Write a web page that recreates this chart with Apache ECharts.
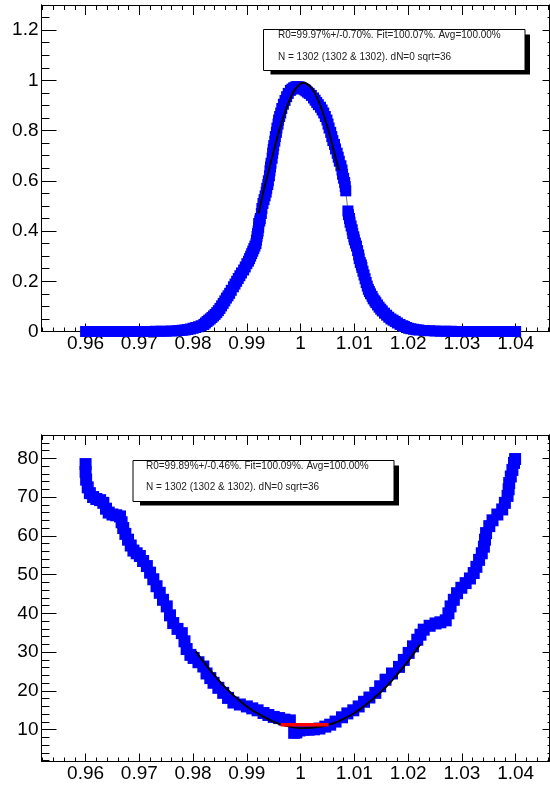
<!DOCTYPE html>
<html>
<head>
<meta charset="utf-8">
<script src="https://cdn.jsdelivr.net/npm/echarts@6/dist/echarts.min.js"></script>
<style>
  html, body { margin: 0; padding: 0; background: #fff; }
  #main { width: 550px; height: 785px; }
</style>
</head>
<body>
<div id="main"></div>
<script>
// tick labels
const xMajorTicks = [0.96, 0.97, 0.98, 0.99, 1.00, 1.01, 1.02, 1.03, 1.04];
const yTopTicks = [0, 0.2, 0.4, 0.6, 0.8, 1, 1.2];
const yBotTicks = [10, 20, 30, 40, 50, 60, 70, 80];

// top panel: points [x, y]
const topPoints = [
  [0.960, 0], [0.961, 0], [0.962, 0], [0.963, 0], [0.964, 0], [0.965, 0], [0.966, 0], [0.967, 0],
  [0.968, 0], [0.969, 0], [0.970, 0], [0.971, 0], [0.972, 0], [0.973, 0.001], [0.974, 0.001],
  [0.975, 0.001], [0.976, 0.002], [0.977, 0.003], [0.9775, 0.004], [0.978, 0.005], [0.9785, 0.006],
  [0.979, 0.008], [0.9795, 0.010], [0.980, 0.013], [0.9805, 0.016], [0.981, 0.019], [0.9815, 0.023],
  [0.982, 0.028], [0.9823, 0.034], [0.9826, 0.04], [0.9829, 0.045], [0.9832, 0.05], [0.9835, 0.056],
  [0.9838, 0.062], [0.9841, 0.068], [0.9844, 0.075], [0.9847, 0.083], [0.985, 0.092], [0.9853, 0.102],
  [0.9856, 0.112], [0.9859, 0.122], [0.9862, 0.133], [0.9865, 0.142], [0.9868, 0.152], [0.9871, 0.164],
  [0.9875, 0.178], [0.9878, 0.189], [0.9881, 0.2], [0.9884, 0.211], [0.9887, 0.222], [0.989, 0.233],
  [0.9894, 0.245], [0.9897, 0.257], [0.990, 0.27], [0.9903, 0.28], [0.9905, 0.29], [0.9907, 0.30],
  [0.9909, 0.31], [0.9911, 0.32], [0.9913, 0.33], [0.9915, 0.34], [0.9917, 0.35], [0.9918, 0.364],
  [0.9919, 0.378], [0.992, 0.39], [0.9921, 0.40], [0.9922, 0.415], [0.9922, 0.43], [0.9924, 0.44],
  [0.9925, 0.45], [0.9927, 0.47], [0.9928, 0.49], [0.993, 0.51], [0.9932, 0.525], [0.9934, 0.54],
  [0.9936, 0.555], [0.9937, 0.57], [0.9939, 0.585], [0.994, 0.60], [0.9942, 0.62], [0.9943, 0.64],
  [0.9944, 0.655], [0.9945, 0.67], [0.9947, 0.69], [0.9948, 0.71], [0.9949, 0.725], [0.995, 0.74],
  [0.9952, 0.758], [0.9953, 0.776], [0.9955, 0.793], [0.9956, 0.81], [0.9958, 0.826], [0.9959, 0.842],
  [0.9961, 0.856], [0.9963, 0.87], [0.9965, 0.888], [0.9968, 0.905], [0.9971, 0.92], [0.9974, 0.935],
  [0.9977, 0.948], [0.9981, 0.96], [0.9984, 0.965], [0.9987, 0.97], [0.999, 0.973], [0.9993, 0.975],
  [0.9997, 0.974], [1.0, 0.972], [1.0003, 0.968], [1.0005, 0.965], [1.0008, 0.962], [1.001, 0.958],
  [1.0013, 0.953], [1.0016, 0.948], [1.002, 0.94], [1.0024, 0.93], [1.0027, 0.921], [1.003, 0.912],
  [1.0033, 0.903], [1.0037, 0.893], [1.004, 0.882], [1.0043, 0.87], [1.0046, 0.856], [1.0049, 0.842],
  [1.0051, 0.826], [1.0053, 0.81], [1.0056, 0.793], [1.0058, 0.776], [1.006, 0.76], [1.0063, 0.745],
  [1.0065, 0.727], [1.0068, 0.71], [1.007, 0.694], [1.0072, 0.678], [1.0075, 0.66], [1.0077, 0.643],
  [1.0078, 0.626], [1.008, 0.61], [1.0082, 0.593], [1.0083, 0.577], [1.0084, 0.56], [1.0088, 0.48],
  [1.0089, 0.465], [1.0091, 0.45], [1.0092, 0.435], [1.0094, 0.42], [1.0096, 0.405], [1.0097, 0.39],
  [1.0099, 0.377], [1.01, 0.365], [1.0102, 0.352], [1.0104, 0.34], [1.0106, 0.322], [1.0108, 0.305],
  [1.0109, 0.29], [1.0111, 0.275], [1.0113, 0.265], [1.0114, 0.255], [1.0116, 0.24], [1.0118, 0.225],
  [1.012, 0.21], [1.0122, 0.195], [1.0124, 0.181], [1.0126, 0.168], [1.0128, 0.159], [1.013, 0.15],
  [1.0133, 0.14], [1.0135, 0.13], [1.0138, 0.122], [1.014, 0.115], [1.0143, 0.106], [1.0146, 0.097],
  [1.0149, 0.089], [1.0152, 0.082], [1.0156, 0.073], [1.016, 0.065], [1.0164, 0.057], [1.0168, 0.05],
  [1.0172, 0.045], [1.0176, 0.04], [1.018, 0.034], [1.0185, 0.028], [1.019, 0.023], [1.0193, 0.02],
  [1.0197, 0.016], [1.0201, 0.013], [1.0205, 0.011], [1.021, 0.009], [1.0215, 0.007], [1.022, 0.006],
  [1.023, 0.004], [1.024, 0.003], [1.025, 0.002], [1.026, 0.001], [1.027, 0.001], [1.028, 0.001],
  [1.029, 0], [1.030, 0], [1.031, 0], [1.032, 0], [1.033, 0], [1.034, 0], [1.035, 0], [1.036, 0],
  [1.037, 0], [1.038, 0], [1.039, 0], [1.040, 0]
];
// top panel fit curve
const topFit = [
  [0.9922, 0.47], [0.993, 0.549], [0.994, 0.635], [0.995, 0.719], [0.996, 0.798], [0.997, 0.867],
  [0.998, 0.924], [0.999, 0.965], [1.000, 0.986], [1.0006, 0.99], [1.001, 0.988], [1.002, 0.970],
  [1.003, 0.933], [1.004, 0.880], [1.005, 0.813], [1.006, 0.735], [1.007, 0.652], [1.0072, 0.643]
];

// bottom panel: points [x, y]
const botPoints = [
  [0.9600, 78.5], [0.9600, 76.5], [0.9601, 74.5], [0.9604, 72.5], [0.9608, 71], [0.9614, 70],
  [0.962, 69.5], [0.9627, 69.2], [0.9633, 68.5], [0.9638, 67], [0.9643, 66], [0.965, 65.5],
  [0.9657, 65.3], [0.9664, 65], [0.9667, 63.5], [0.967, 62], [0.9674, 60.5], [0.9679, 59],
  [0.9684, 57.5], [0.9689, 56.2], [0.9695, 55.5], [0.9701, 54.8], [0.9707, 53.5], [0.9714, 52.2],
  [0.972, 50.5], [0.9726, 48.8], [0.9732, 47], [0.9738, 45.3], [0.9744, 43.5], [0.9751, 41.8],
  [0.9757, 39.5], [0.9763, 37.5], [0.9771, 36], [0.9779, 34.9], [0.9784, 32.8], [0.9788, 30.8],
  [0.9795, 29.3], [0.9801, 28.5], [0.981, 27.4], [0.9819, 26.3], [0.9825, 24.5], [0.9832, 23.3],
  [0.9838, 22.1], [0.9847, 20.8], [0.9856, 19.5], [0.9865, 18.2], [0.9875, 17], [0.9887, 16.5],
  [0.99, 16], [0.991, 15.5], [0.992, 15], [0.9931, 14.3], [0.994, 13.8], [0.995, 13.3],
  [0.996, 13], [0.997, 12.6], [0.998, 12.4], [0.9988, 9.2], [0.9992, 9.3], [0.9998, 9.8],
  [1.0005, 10], [1.0015, 10], [1.0025, 10.1], [1.0035, 10.3], [1.0046, 10.8], [1.0055, 11.3],
  [1.0065, 12.1], [1.0077, 13.2], [1.0087, 14.2], [1.0098, 15], [1.0108, 16], [1.0118, 17.2],
  [1.0128, 18.3], [1.0139, 19.5], [1.0148, 21.2], [1.0158, 22.9], [1.017, 24.5], [1.0183, 26.2],
  [1.0192, 28], [1.0201, 29.8], [1.0209, 31.5], [1.0217, 33.2], [1.0223, 34.5], [1.0229, 35.8],
  [1.024, 36.8], [1.0251, 37.4], [1.026, 37.7], [1.027, 38.2], [1.0275, 40], [1.0279, 41.8],
  [1.0285, 43.5], [1.0291, 45.2], [1.0299, 46.6], [1.0307, 47.8], [1.0315, 49], [1.0322, 50.4],
  [1.0327, 52], [1.0332, 53.8], [1.0337, 55.5], [1.0341, 57.2], [1.0343, 59], [1.0345, 60.7],
  [1.0351, 62.5], [1.0357, 64], [1.0366, 65.5], [1.0375, 66.8], [1.038, 68.5], [1.0385, 70.3],
  [1.0387, 72], [1.0388, 73.6], [1.0391, 75.3], [1.0394, 77], [1.0397, 78.8], [1.0399, 79.8]
];
// bottom panel fit curve
const botFit = [
  [0.9805, 30.2], [0.982, 27.4], [0.984, 24.0], [0.986, 20.9], [0.988, 18.3], [0.990, 16.0],
  [0.992, 14.2], [0.994, 12.7], [0.996, 11.5], [0.998, 10.8], [1.000, 10.4], [1.002, 10.5],
  [1.004, 10.9], [1.006, 11.6], [1.008, 12.8], [1.010, 14.3], [1.012, 16.3], [1.014, 18.6],
  [1.016, 21.2], [1.018, 24.3], [1.020, 27.7], [1.022, 31.5], [1.0223, 32.1]
];
// red segment at the minimum
const botRed = [[0.9963, 11.3], [1.0052, 11.3]];

const topText = ['R0=99.97%+/-0.70%. Fit=100.07%. Avg=100.00%', 'N = 1302 (1302 & 1302). dN=0 sqrt=36'];
const botText = ['R0=99.89%+/-0.46%. Fit=100.09%. Avg=100.00%', 'N = 1302 (1302 & 1302). dN=0 sqrt=36'];

const X_MIN = 0.9518, X_MAX = 1.0463;
const FONT = 'Liberation Sans, Arial, Helvetica, sans-serif';

let xMinor = [];
for (let i = 476; i <= 523; i++) xMinor.push(i * 2 / 1000);
let yTopMinor = [];
for (let i = 0; i <= 26; i++) yTopMinor.push(i * 5 / 100);
let yBotMinor = [];
for (let i = 1; i <= 43; i++) yBotMinor.push(i * 2);

let dom = document.getElementById('main');
let chart = echarts.init(dom, null, { renderer: 'canvas' });

function fmt(v) {
  return String(Math.round(v * 1000) / 1000);
}

function axisDef(grid, pos, min, max, ticks, len, labels, labelMargin) {
  let a = {
    type: 'value',
    gridIndex: grid,
    position: pos,
    min: min,
    max: max,
    axisLine: { show: true, onZero: false, lineStyle: { color: '#000', width: 1 } },
    axisTick: { show: true, inside: true, length: len, customValues: ticks, lineStyle: { color: '#000', width: 1 } },
    axisLabel: { show: false },
    splitLine: { show: false },
  };
  if (labels) {
    a.axisLabel = {
      show: true,
      customValues: labels,
      formatter: fmt,
      fontSize: 19,
      fontFamily: FONT,
      color: '#000',
      margin: labelMargin,
    };
  }
  return a;
}

let xAxes = [];
let yAxes = [];
[0, 1].forEach(function (g) {
  xAxes.push(axisDef(g, 'bottom', X_MIN, X_MAX, xMajorTicks, 8, xMajorTicks, 3));
  xAxes.push(axisDef(g, 'bottom', X_MIN, X_MAX, xMinor, 4, null));
  xAxes.push(axisDef(g, 'top', X_MIN, X_MAX, xMajorTicks, 10, null));
  xAxes.push(axisDef(g, 'top', X_MIN, X_MAX, xMinor, 5, null));
});
// top grid y
yAxes.push(axisDef(0, 'left', 0, 1.3, yTopTicks, 15, yTopTicks, 3));
yAxes.push(axisDef(0, 'left', 0, 1.3, yTopMinor, 8, null));
yAxes.push(axisDef(0, 'right', 0, 1.3, yTopTicks, 7, null));
yAxes.push(axisDef(0, 'right', 0, 1.3, yTopMinor, 2, null));
// bottom grid y
yAxes.push(axisDef(1, 'left', 1.8, 86, yBotTicks, 15, yBotTicks, 3));
yAxes.push(axisDef(1, 'left', 1.8, 86, yBotMinor, 8, null));
yAxes.push(axisDef(1, 'right', 1.8, 86, yBotTicks, 7, null));
yAxes.push(axisDef(1, 'right', 1.8, 86, yBotMinor, 2, null));

function boxGraphics(x, y, w, h, lines, tx, ty1, ty2) {
  return [
    { type: 'rect', shape: { x: x + 7, y: y + 5, width: w - 2, height: h - 1 }, style: { fill: '#000' }, z: 10 },
    { type: 'rect', shape: { x: x, y: y, width: w, height: h }, style: { fill: '#fff', stroke: '#000', lineWidth: 1 }, z: 11 },
    { type: 'text', x: tx, y: ty1, style: { text: lines[0], font: '10px ' + FONT, fill: '#222', verticalAlign: 'middle' }, z: 12 },
    { type: 'text', x: tx, y: ty2, style: { text: lines[1], font: '10px ' + FONT, fill: '#222', verticalAlign: 'middle' }, z: 12 },
  ];
}

let option = {
  animation: false,
  backgroundColor: '#fff',
  grid: [
    { left: 41.5, top: 5, width: 508, height: 326.5, containLabel: false, outerBoundsMode: 'none' },
    { left: 41.5, top: 435, width: 508, height: 326.5, containLabel: false, outerBoundsMode: 'none' },
  ],
  xAxis: xAxes,
  yAxis: yAxes,
  series: [
    {
      type: 'line', xAxisIndex: 0, yAxisIndex: 0, data: topPoints,
      symbol: 'rect', symbolSize: 11, showSymbol: true, showAllSymbol: true,
      itemStyle: { color: '#0000ff' },
      lineStyle: { color: '#777', width: 1 },
      z: 2,
    },
    {
      type: 'line', xAxisIndex: 0, yAxisIndex: 0, data: topFit, smooth: true,
      symbol: 'none', lineStyle: { color: '#000', width: 2 }, z: 3,
    },
    {
      type: 'line', xAxisIndex: 4, yAxisIndex: 4, data: botPoints,
      symbol: 'rect', symbolSize: 12, showSymbol: true, showAllSymbol: true,
      itemStyle: { color: '#0000ff' },
      lineStyle: { color: '#777', width: 1 },
      z: 2,
    },
    {
      type: 'line', xAxisIndex: 4, yAxisIndex: 4, data: botFit, smooth: true,
      symbol: 'none', lineStyle: { color: '#000', width: 2 }, z: 3,
    },
    {
      type: 'line', xAxisIndex: 4, yAxisIndex: 4, data: botRed,
      symbol: 'none', lineStyle: { color: '#ff0000', width: 3.5 }, z: 4,
    },
  ],
  graphic: boxGraphics(263.5, 29.5, 261.5, 41, topText, 278, 35.5, 57)
    .concat(boxGraphics(133, 460.5, 261, 41, botText, 146, 466, 487.5)),
};

chart.setOption(option);
window.addEventListener('resize', chart.resize);
</script>
</body>
</html>
